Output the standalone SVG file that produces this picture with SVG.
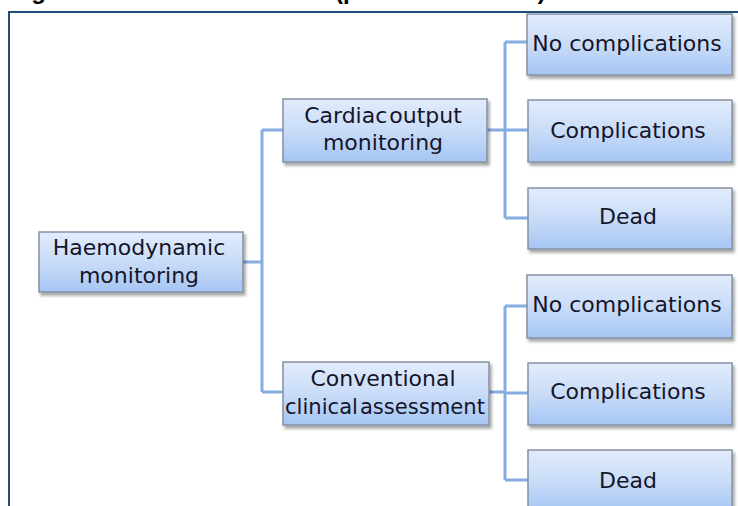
<svg xmlns="http://www.w3.org/2000/svg" width="738" height="506" viewBox="0 0 738 506">
<defs>
<linearGradient id="g" x1="0" y1="0" x2="0" y2="1">
<stop offset="0" stop-color="#e2ecfc"/>
<stop offset="0.5" stop-color="#c9dcf8"/>
<stop offset="1" stop-color="#a6c5f3"/>
</linearGradient>
<filter id="sh" x="-10%" y="-10%" width="125%" height="140%">
<feDropShadow dx="2" dy="3" stdDeviation="1.5" flood-color="#000" flood-opacity="0.35"/>
</filter>
</defs>
<style>
.box{fill:url(#g);stroke:#8591a3;stroke-width:1.5;filter:url(#sh)}
.t{font-family:"DejaVu Sans",sans-serif;font-size:22px;fill:#15152a;text-anchor:middle}
.c{fill:none;stroke:#86ade2;stroke-width:3}
.frame{fill:none;stroke:#1f4e79;stroke-width:2}
.title{font-family:"Liberation Sans",Arial,sans-serif;font-weight:bold;font-size:24px;fill:#000}
</style>
<rect width="738" height="506" fill="#fff"/>
<text class="title" x="10" y="-1">Figure 1 Decision tree <tspan x="335">(part of the model)</tspan></text>
<path class="frame" d="M9,506 V12 H738"/>
<g id="connectors">
<path class="c" d="M243,262 H262 M262,130 V392 M262,130 H283 M262,392 H283"/>
<path class="c" d="M487,130 H505 M505,42 V218 M505,42 H527 M505,130 H528 M505,218 H528"/>
<path class="c" d="M489,392 H505 M505,306 V480 M505,306 H527 M505,393 H528 M505,480 H528"/>
</g>
<g id="haemodynamic">
<rect class="box" x="39" y="232" width="204" height="60"/>
<text class="t" x="139" y="255">Haemodynamic</text>
<text class="t" x="139" y="283">monitoring</text>
</g>
<g id="cardiac">
<rect class="box" x="283" y="99" width="204" height="63"/>
<text class="t" x="383" y="123" word-spacing="-5">Cardiac output</text>
<text class="t" x="383" y="150">monitoring</text>
</g>
<g id="conventional">
<rect class="box" x="283" y="362" width="206" height="63"/>
<text class="t" x="383" y="386">Conventional</text>
<text class="t" x="385" y="414" word-spacing="-5" textLength="200" lengthAdjust="spacingAndGlyphs">clinical assessment</text>
</g>
<g id="co-nocomp">
<rect class="box" x="527" y="14" width="205" height="61"/>
<text class="t" x="627" y="51">No complications</text>
</g>
<g id="co-comp">
<rect class="box" x="528" y="100" width="204" height="62"/>
<text class="t" x="628" y="138">Complications</text>
</g>
<g id="co-dead">
<rect class="box" x="528" y="188" width="204" height="61"/>
<text class="t" x="628" y="224">Dead</text>
</g>
<g id="cc-nocomp">
<rect class="box" x="527" y="275" width="205" height="63"/>
<text class="t" x="627" y="312">No complications</text>
</g>
<g id="cc-comp">
<rect class="box" x="528" y="363" width="204" height="62"/>
<text class="t" x="628" y="399">Complications</text>
</g>
<g id="cc-dead">
<rect class="box" x="528" y="450" width="204" height="62"/>
<text class="t" x="628" y="488">Dead</text>
</g>
</svg>
